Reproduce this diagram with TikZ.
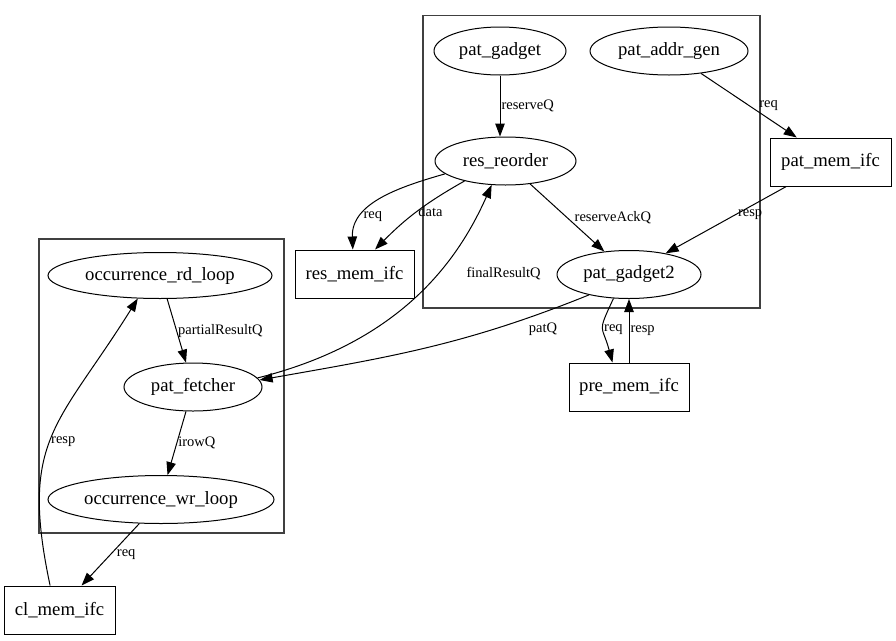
\documentclass[tikz,border=0pt]{standalone}
\usepackage{fontspec}
\setmainfont{Liberation Serif}
\usetikzlibrary{arrows.meta,shapes.geometric}
\begin{document}
\begin{tikzpicture}[x=1pt,y=1pt,
  proc/.style={ellipse,draw,line width=1pt,inner sep=0pt,minimum height=48pt,font=\fontsize{18.7}{20}\selectfont},
  mem/.style={rectangle,draw,line width=1pt,inner sep=0pt,minimum height=48pt,font=\fontsize{18.7}{20}\selectfont},
  lbl/.style={font=\fontsize{14.5}{16}\selectfont,inner sep=1pt},
  edge/.style={-{Triangle[length=13pt,width=9.5pt]},line width=1pt},
  clus/.style={draw=black!75,line width=1.2pt}]
\useasboundingbox (0,0) rectangle (896,-640);
\draw[clus] (423,-15.7) rectangle (760,-308);
\draw[clus] (39,-239) rectangle (284,-533);
\node[proc,minimum width=132pt] (gadget) at (500,-51) {pat\_gadget};
\node[proc,minimum width=158pt] (addrgen) at (669,-51) {pat\_addr\_gen};
\node[proc,minimum width=141pt] (reorder) at (505.5,-161) {res\_reorder};
\node[mem,minimum width=121pt] (patmem) at (830.5,-162) {pat\_mem\_ifc};
\node[mem,minimum width=119pt] (resmem) at (354.5,-274) {res\_mem\_ifc};
\node[proc,minimum width=144pt] (gadget2) at (629,-274.5) {pat\_gadget2};
\node[mem,minimum width=120pt] (premem) at (629,-387) {pre\_mem\_ifc};
\node[proc,minimum width=224pt,minimum height=46pt] (rdloop) at (160,-275.5) {occurrence\_rd\_loop};
\node[proc,minimum width=138pt] (fetcher) at (193,-387) {pat\_fetcher};
\node[proc,minimum width=226pt] (wrloop) at (161,-499.5) {occurrence\_wr\_loop};
\node[mem,minimum width=111pt] (clmem) at (59.5,-610) {cl\_mem\_ifc};
\draw[edge] (gadget) -- node[lbl,right]{reserveQ} (gadget |- reorder.north);
\draw[edge] (addrgen.-35) -- node[lbl,right=9pt]{req} (patmem.144);
\draw[edge] (reorder.192) to[out=196,in=92] node[lbl,right,pos=0.72]{req} (resmem.94);
\draw[edge] (reorder.206) to[bend right=8] node[lbl,right,pos=0.5]{data} (resmem.50);
\draw[edge] (reorder.-43) -- node[lbl,right=6pt]{reserveAckQ} (gadget2.137);
\draw[edge] (patmem.209) -- node[lbl,below=2pt,pos=0.3]{resp} (gadget2.30);
\draw[edge] (fetcher.8) to[out=14,in=246,out distance=150,in distance=80] node[lbl,pos=0.6,right=28pt]{finalResultQ} (reorder.240);
\draw[edge] (gadget2.207) to[out=202,in=10] node[lbl,below=9pt,pos=0.13]{patQ} (fetcher.6);
\draw[edge] (gadget2.237) to[out=245,in=105,looseness=1.6] node[lbl,right,pos=0.5]{req} (premem.124);
\draw[edge] (premem) -- node[lbl,right]{resp} (gadget2);
\draw[edge] (rdloop.-73) -- node[lbl,right]{partialResultQ} (fetcher.106);
\draw[edge] (fetcher.-106) -- node[lbl,right]{irowQ} (wrloop.75);
\draw[edge] (wrloop.-132) -- node[lbl,right=5pt]{req} (clmem.48);
\draw[edge] (clmem.111) to[out=102,in=238,out distance=150,in distance=150] node[lbl,right,pos=0.47]{resp} (rdloop.226);
\end{tikzpicture}
\end{document}
